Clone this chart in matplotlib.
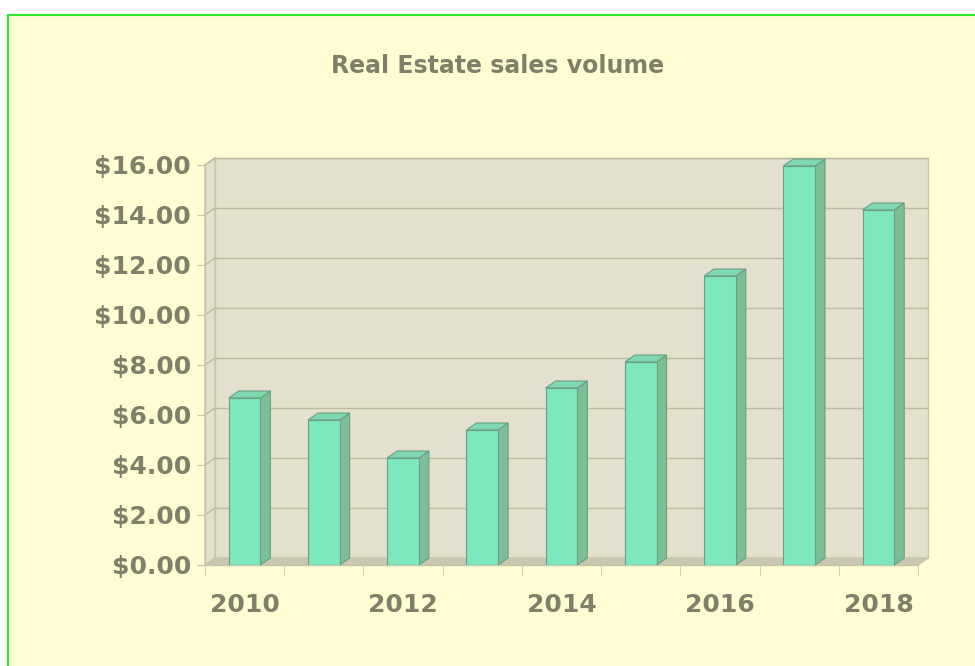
import matplotlib.pyplot as plt
from matplotlib.patches import Rectangle, Polygon

# sales volume by year
years = ['2010', '2011', '2012', '2013', '2014', '2015', '2016', '2017', '2018']
sales = [6.68, 5.80, 4.28, 5.40, 7.08, 8.12, 11.56, 15.96, 14.20]
y_ticks = [0, 2, 4, 6, 8, 10, 12, 14, 16]
title = 'Real Estate sales volume'

text_color = '#80806a'
wall_color = '#e3e1cd'
floor_color = '#c9c7b1'
grid_color = '#bdbba4'
edge_color = '#c8c6aa'
front_color = '#7de8bc'
side_color = '#7dbe98'
top_color = '#80d8b0'
bar_edge = '#6a9f84'

fig = plt.figure(figsize=(9.75, 6.66), dpi=100)
fig.patch.set_facecolor('white')
fig.patches.append(Rectangle((7.5 / 975, -0.1), 1.1, 1 - 15.5 / 666 + 0.1,
                             transform=fig.transFigure, facecolor='#fffdd4',
                             edgecolor='#2ee82e', linewidth=1.5, zorder=-10))

ax = fig.add_axes([205 / 975, 1 - 565 / 666, 713 / 975, 400 / 666])
ax.set_zorder(1)
ax.set_facecolor('none')
for s in ax.spines.values():
    s.set_visible(False)

n = len(years)
x0, x1 = -0.5, n - 0.5
ymax = y_ticks[-1]
ax.set_xlim(x0, x1)
ax.set_ylim(0, ymax)

# depth of the 3d box, 10px right and 7px up, in data units
dx = 10 / (713 / n)
dy = 7 / (400 / ymax)

# back wall, left wall and floor
ax.add_patch(Rectangle((x0 + dx, dy), x1 - x0, ymax, facecolor=wall_color,
                       edgecolor=edge_color, lw=1, clip_on=False, zorder=1))
ax.add_patch(Polygon([(x0, 0), (x0 + dx, dy), (x0 + dx, ymax + dy), (x0, ymax)],
                     facecolor=wall_color, edgecolor=edge_color, lw=1,
                     clip_on=False, zorder=1))
for t in y_ticks[1:]:
    ax.plot([x0 + dx, x1 + dx], [t + dy, t + dy], color=grid_color, lw=1,
            clip_on=False, zorder=2)
    ax.plot([x0, x0 + dx], [t, t + dy], color=grid_color, lw=1,
            clip_on=False, zorder=2)
ax.add_patch(Polygon([(x0, 0), (x1, 0), (x1 + dx, dy), (x0 + dx, dy)],
                     facecolor=floor_color, edgecolor=edge_color, lw=1,
                     clip_on=False, zorder=3))
ax.plot([x0, x0], [0, ymax], color=edge_color, lw=1, clip_on=False, zorder=3)

# bars: front face, right side, top
w = 0.4
xs = list(range(n))
ax.bar(xs, sales, width=w, color=front_color, edgecolor=bar_edge, lw=0.8, zorder=5)
for x, v in zip(xs, sales):
    r = x + w / 2
    l = x - w / 2
    ax.add_patch(Polygon([(r, 0), (r + dx, dy), (r + dx, v + dy), (r, v)],
                         facecolor=side_color, edgecolor=bar_edge, lw=0.8,
                         clip_on=False, zorder=4))
    ax.add_patch(Polygon([(l, v), (r, v), (r + dx, v + dy), (l + dx, v + dy)],
                         facecolor=top_color, edgecolor=bar_edge, lw=0.8,
                         clip_on=False, zorder=4))

# axes ticks and labels
ax.set_yticks(y_ticks)
ax.set_yticklabels(['$%.2f' % t for t in y_ticks])
ax.tick_params(axis='y', length=6, color=edge_color, pad=4,
               labelsize=18, labelcolor=text_color)
for lab in ax.get_yticklabels():
    lab.set_fontweight('bold')

ax.set_xticks(xs[::2])
ax.set_xticklabels(years[::2])
ax.set_xticks([i - 0.5 for i in range(n + 1)], minor=True)
ax.tick_params(axis='x', which='major', length=0, pad=20,
               labelsize=18, labelcolor=text_color)
ax.tick_params(axis='x', which='minor', length=7, color=edge_color)
for lab in ax.get_xticklabels():
    lab.set_fontweight('bold')
ax.plot([x0, x1], [0, 0], color=edge_color, lw=1, clip_on=False, zorder=3)

fig.text(0.51, 1 - 66 / 666, title, ha='center', va='center',
         fontsize=17, fontweight='bold', color=text_color)

fig.savefig('out.png', dpi=100)
